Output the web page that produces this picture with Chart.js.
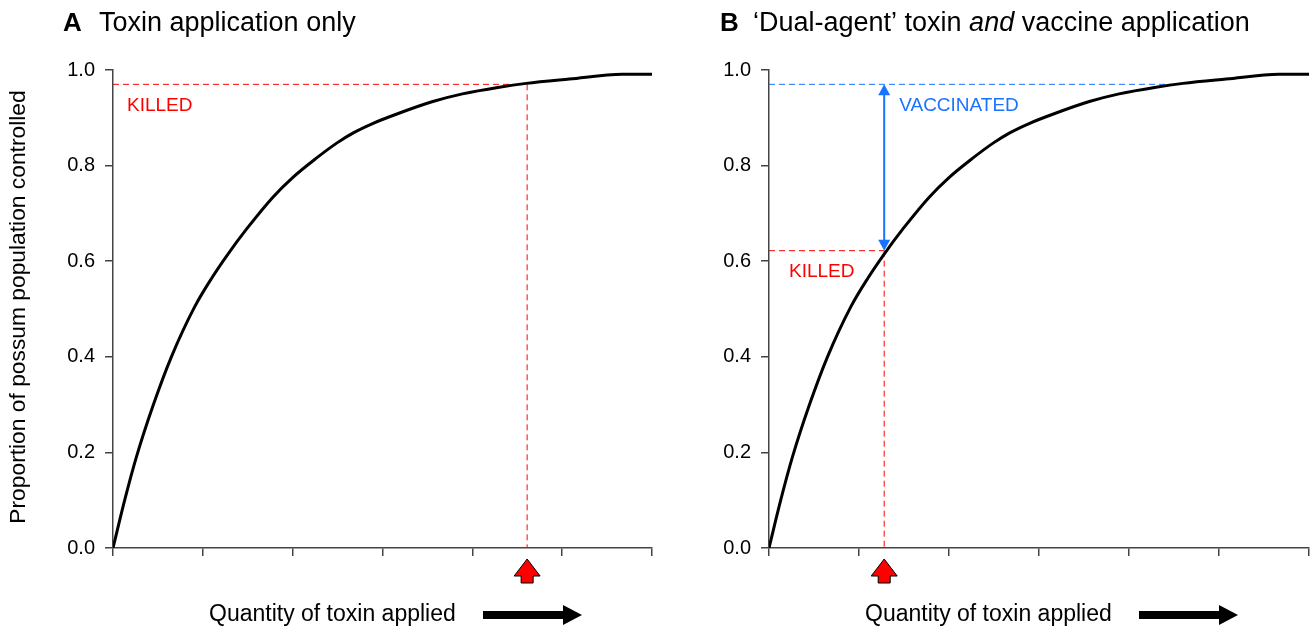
<!DOCTYPE html>
<html>
<head>
<meta charset="utf-8">
<script src="https://cdn.jsdelivr.net/npm/chart.js@4.4.0/dist/chart.umd.min.js"></script>
<style>
  html, body { margin: 0; padding: 0; background: #fff; }
  #wrap { position: relative; width: 1314px; height: 632px; }
  canvas { position: absolute; top: 0; }
  #panelA { left: 0; }
  #panelB { left: 656px; }
</style>
</head>
<body>
<div id="wrap">
  <canvas id="panelA" width="656" height="632"></canvas>
  <canvas id="panelB" width="658" height="632"></canvas>
</div>
<script>
// Quantity of toxin (arbitrary units, 6 tick intervals) and proportion controlled
const toxinQuantity = [0, 0.13, 0.26, 0.45, 0.65, 0.91, 1.10, 1.28, 1.49, 1.78, 2.00, 2.26, 2.49, 2.67, 2.89, 3.19, 3.56, 3.89, 4.30, 4.60, 5.08, 5.67, 6.00];
const proportionControlled = [0, 0.10, 0.19, 0.30, 0.40, 0.505, 0.565, 0.615, 0.668, 0.734, 0.775, 0.815, 0.847, 0.868, 0.888, 0.910, 0.934, 0.950, 0.964, 0.972, 0.981, 0.991, 0.991];
const yTickValues = [0, 0.2, 0.4, 0.6, 0.8, 1.0];

// Annotation values: [toxin quantity applied, level where dashed line meets the curve, level]
const panelAKilled = [4.61, 4.43, 0.97];
const panelBKilled = [1.28, 0.622];
const panelBVaccinated = [4.47, 0.97];

const FONT = "'Liberation Sans', Arial, sans-serif";
const RED = "#ff0000";
const BLUE = "#1a73ff";

function dashedLine(ctx, x1, y1, x2, y2, color) {
  ctx.save();
  ctx.strokeStyle = color;
  ctx.lineWidth = 1;
  ctx.setLineDash([6, 4]);
  ctx.beginPath();
  ctx.moveTo(x1, y1);
  ctx.lineTo(x2, y2);
  ctx.stroke();
  ctx.restore();
}

// red block arrow under the x axis
function markerArrow(ctx, x, bottom) {
  const tip = bottom + 11, base = bottom + 28, end = bottom + 35;
  ctx.save();
  ctx.fillStyle = RED;
  ctx.strokeStyle = "#000";
  ctx.lineWidth = 1;
  ctx.beginPath();
  ctx.moveTo(x, tip);
  ctx.lineTo(x + 13, base);
  ctx.lineTo(x + 6, base);
  ctx.lineTo(x + 6, end);
  ctx.lineTo(x - 6, end);
  ctx.lineTo(x - 6, base);
  ctx.lineTo(x - 13, base);
  ctx.closePath();
  ctx.fill();
  ctx.stroke();
  ctx.restore();
}

function xAxisLabel(ctx, left) {
  const y = 615;
  ctx.save();
  ctx.fillStyle = "#000";
  ctx.font = "23px " + FONT;
  ctx.textBaseline = "middle";
  ctx.textAlign = "left";
  ctx.fillText("Quantity of toxin applied", left + 96, y);
  // thick black arrow
  ctx.beginPath();
  ctx.moveTo(left + 370, y - 4);
  ctx.lineTo(left + 450, y - 4);
  ctx.lineTo(left + 450, y - 10);
  ctx.lineTo(left + 469, y);
  ctx.lineTo(left + 450, y + 10);
  ctx.lineTo(left + 450, y + 4);
  ctx.lineTo(left + 370, y + 4);
  ctx.closePath();
  ctx.fill();
  ctx.restore();
}

const annotate = {
  id: "annotate",
  beforeDatasetsDraw(chart, args, opts) {
    const ctx = chart.ctx, xs = chart.scales.x, ys = chart.scales.y;
    const left = chart.chartArea.left, bottom = chart.chartArea.bottom;
    if (opts.panel === "A") {
      const xk = xs.getPixelForValue(panelAKilled[0]);
      const yk = ys.getPixelForValue(panelAKilled[2]);
      dashedLine(ctx, left, yk, xs.getPixelForValue(panelAKilled[1]), yk, RED);
      dashedLine(ctx, xk, yk, xk, bottom, RED);
    } else {
      const xk = xs.getPixelForValue(panelBKilled[0]);
      const yk = ys.getPixelForValue(panelBKilled[1]);
      const yv = ys.getPixelForValue(panelBVaccinated[1]);
      dashedLine(ctx, left, yv, xs.getPixelForValue(panelBVaccinated[0]), yv, BLUE);
      dashedLine(ctx, left, yk, xk, yk, RED);
      dashedLine(ctx, xk, yk, xk, bottom, RED);
    }
  },
  afterDraw(chart, args, opts) {
    const ctx = chart.ctx, xs = chart.scales.x, ys = chart.scales.y;
    const left = chart.chartArea.left, bottom = chart.chartArea.bottom;
    ctx.save();
    ctx.textBaseline = "alphabetic";
    ctx.textAlign = "left";
    ctx.fillStyle = "#000";
    if (opts.panel === "A") {
      ctx.font = "bold 26px " + FONT;
      ctx.fillText("A", 63, 31);
      ctx.font = "27px " + FONT;
      ctx.fillText("Toxin application only", 99, 31);

      // y axis title
      ctx.save();
      ctx.translate(19, 307);
      ctx.rotate(-Math.PI / 2);
      ctx.textAlign = "center";
      ctx.textBaseline = "middle";
      ctx.font = "22.8px " + FONT;
      ctx.fillText("Proportion of possum population controlled", 0, 0);
      ctx.restore();

      ctx.fillStyle = RED;
      ctx.font = "19px " + FONT;
      ctx.fillText("KILLED", left + 14, ys.getPixelForValue(panelAKilled[2]) + 27);
      markerArrow(ctx, xs.getPixelForValue(panelAKilled[0]), bottom);
    } else {
      ctx.font = "bold 26px " + FONT;
      ctx.fillText("B", 64, 31);
      ctx.font = "27px " + FONT;
      let x = 97;
      const part1 = "\u2018Dual-agent\u2019 toxin ";
      ctx.fillText(part1, x, 31);
      x += ctx.measureText(part1).width;
      ctx.font = "italic 27px " + FONT;
      ctx.fillText("and", x, 31);
      x += ctx.measureText("and ").width;
      ctx.font = "27px " + FONT;
      ctx.fillText("vaccine application", x, 31);

      const xk = xs.getPixelForValue(panelBKilled[0]);
      const yk = ys.getPixelForValue(panelBKilled[1]);
      const yv = ys.getPixelForValue(panelBVaccinated[1]);

      // double headed blue arrow
      ctx.strokeStyle = BLUE;
      ctx.fillStyle = BLUE;
      ctx.lineWidth = 2;
      ctx.beginPath();
      ctx.moveTo(xk, yv + 8);
      ctx.lineTo(xk, yk - 8);
      ctx.stroke();
      ctx.beginPath();
      ctx.moveTo(xk, yv);
      ctx.lineTo(xk + 6, yv + 11);
      ctx.lineTo(xk - 6, yv + 11);
      ctx.closePath();
      ctx.fill();
      ctx.beginPath();
      ctx.moveTo(xk, yk);
      ctx.lineTo(xk + 6, yk - 11);
      ctx.lineTo(xk - 6, yk - 11);
      ctx.closePath();
      ctx.fill();

      ctx.font = "19px " + FONT;
      ctx.fillText("VACCINATED", xk + 15, yv + 27);
      ctx.fillStyle = RED;
      ctx.fillText("KILLED", left + 20, yk + 26);
      markerArrow(ctx, xk, bottom);
    }
    ctx.restore();
    xAxisLabel(ctx, left);
  }
};

function makePanel(id, panel, rightPad) {
  return new Chart(document.getElementById(id).getContext("2d"), {
    type: "line",
    data: {
      datasets: [{
        data: toxinQuantity.map((q, i) => ({ x: q, y: proportionControlled[i] })),
        borderColor: "#000",
        borderWidth: 3,
        pointRadius: 0,
        tension: 0.3,
        cubicInterpolationMode: "monotone",
        fill: false,
      }],
    },
    options: {
      responsive: false,
      maintainAspectRatio: false,
      animation: false,
      layout: { padding: { top: 70, right: rightPad, left: 0, bottom: 0 } },
      plugins: {
        legend: { display: false },
        tooltip: { enabled: false },
        annotate: { panel: panel },
      },
      scales: {
        x: {
          type: "linear",
          min: 0,
          max: 6,
          afterFit: scale => { scale.height = 84; },
          grid: { drawOnChartArea: false, drawTicks: true, tickLength: 8, color: "#444", lineWidth: 1.5 },
          border: { color: "#444", width: 1.5 },
          ticks: { stepSize: 1, display: false },
        },
        y: {
          min: 0,
          max: 1,
          afterFit: scale => { scale.width = 113; },
          afterBuildTicks: scale => { scale.ticks = yTickValues.map(v => ({ value: v })); },
          grid: { drawOnChartArea: false, drawTicks: true, tickLength: 8, color: "#444", lineWidth: 1.5 },
          border: { color: "#444", width: 1.5 },
          ticks: {
            color: "#000",
            padding: 10,
            font: { family: FONT, size: 20 },
            callback: v => v.toFixed(1),
          },
        },
      },
    },
    plugins: [annotate],
  });
}

makePanel("panelA", "A", 4);
makePanel("panelB", "B", 5);
</script>
</body>
</html>
